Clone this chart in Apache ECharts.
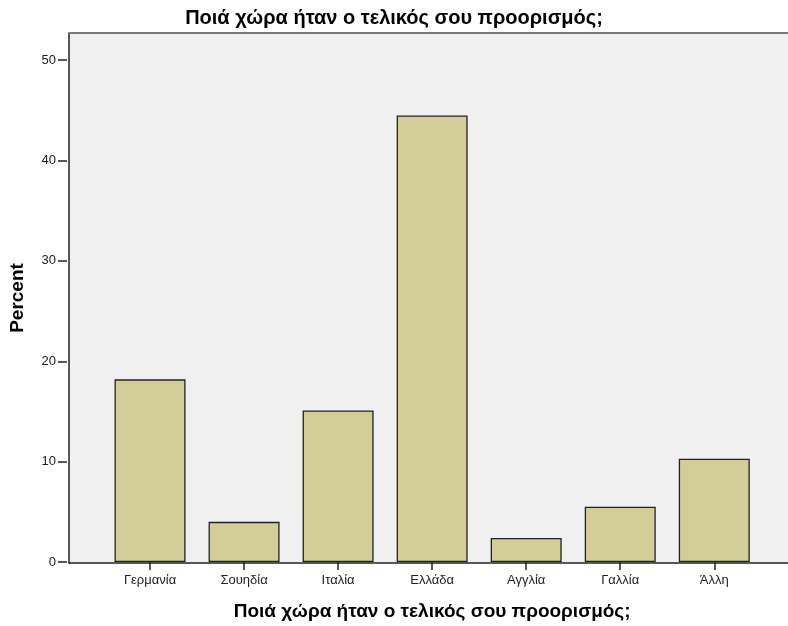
<!DOCTYPE html>
<html>
<head>
<meta charset="utf-8">
<script src="https://cdn.jsdelivr.net/npm/echarts@6/dist/echarts.min.js"></script>
<style>html,body{margin:0;padding:0;background:#fff}#c{width:788px;height:626px}</style>
</head>
<body>
<div id="c"></div>
<script>
const categories = ['Γερμανία', 'Σουηδία', 'Ιταλία', 'Ελλάδα', 'Αγγλία', 'Γαλλία', 'Άλλη'];
const percentValues = [18.2, 4.0, 15.1, 44.5, 2.4, 5.5, 10.3];
const yTicks = [0, 10, 20, 30, 40, 50];
const titleText = 'Ποιά χώρα ήταν ο τελικός σου προορισμός;';
const yName = 'Percent';

const font = 'Arial, "Liberation Sans", sans-serif';
const chart = echarts.init(document.getElementById('c'), null, {renderer: 'canvas'});
chart.setOption({
  animation: false,
  backgroundColor: '#ffffff',
  title: {
    text: titleText, left: 'center', top: 3,
    textStyle: {fontFamily: font, fontSize: 20, fontWeight: 'bold', color: '#000'}
  },
  grid: [
    {left: 67, right: 0, top: 33, bottom: 63, show: true, backgroundColor: '#f0f0f0', borderWidth: 0},
    {left: 103, right: 26.7, top: 60.2, bottom: 63}
  ],
  xAxis: [
    {gridIndex: 0, type: 'value', min: 0, max: 1, position: 'bottom',
     axisLine: {show: true, lineStyle: {color: '#222', width: 1.5}},
     axisTick: {show: false}, axisLabel: {show: false}, splitLine: {show: false}},
    {gridIndex: 0, type: 'value', min: 0, max: 1, position: 'top',
     axisLine: {show: true, lineStyle: {color: '#7a7a7a', width: 2}},
     axisTick: {show: false}, axisLabel: {show: false}, splitLine: {show: false}},
    {gridIndex: 1, type: 'category', data: categories,
     name: titleText, nameLocation: 'middle', nameGap: 40,
     nameTextStyle: {fontFamily: font, fontSize: 19, fontWeight: 'bold', color: '#000'},
     axisLine: {show: false},
     axisTick: {show: true, alignWithLabel: true, length: 8, lineStyle: {color: '#222', width: 1.5}},
     axisLabel: {margin: 12, fontFamily: font, fontSize: 13, color: '#222'}}
  ],
  yAxis: [
    {gridIndex: 0, type: 'value', min: 0, max: 1,
     name: yName, nameLocation: 'middle', nameGap: 42, nameRotate: 90,
     nameTextStyle: {fontFamily: font, fontSize: 19, fontWeight: 'bold', color: '#000'},
     axisLine: {show: true, lineStyle: {color: '#222', width: 1.5}},
     axisTick: {show: false}, axisLabel: {show: false}, splitLine: {show: false}},
    {gridIndex: 1, type: 'value', min: 0, max: 50, interval: 10, offset: 36,
     axisLine: {show: false},
     axisTick: {show: true, length: 9, lineStyle: {color: '#222', width: 1.5}},
     axisLabel: {margin: 11, fontFamily: font, fontSize: 13, color: '#222',
       formatter: v => yTicks.includes(v) ? String(v) : ''},
     splitLine: {show: false}}
  ],
  series: [{
    type: 'bar', xAxisIndex: 2, yAxisIndex: 1,
    data: percentValues, barWidth: 71,
    itemStyle: {color: '#d3ce97', borderColor: '#222', borderWidth: 1.3}
  }]
});
</script>
</body>
</html>
